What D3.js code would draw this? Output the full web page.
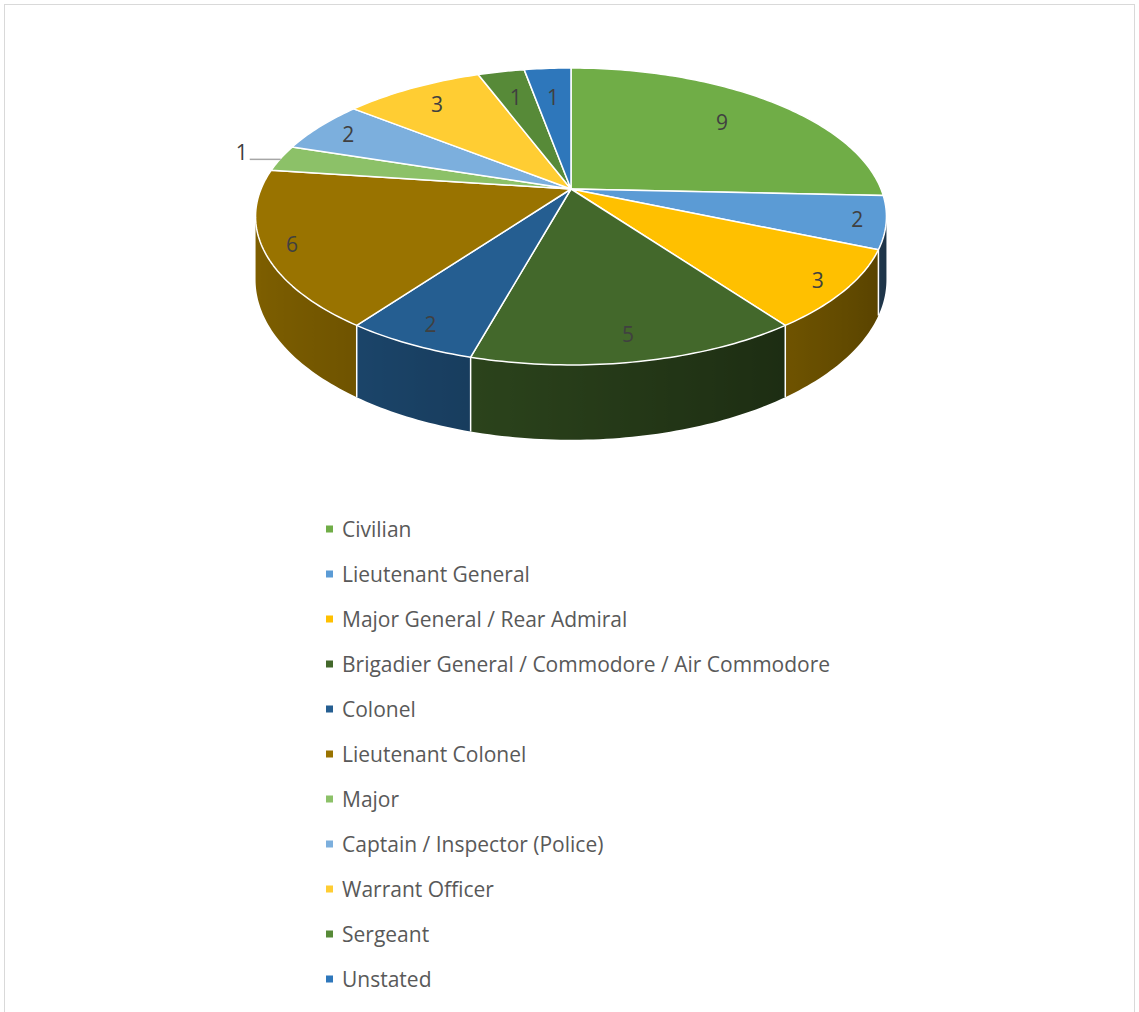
<!DOCTYPE html>
<html>
<head>
<meta charset="utf-8">
<script src="https://cdn.jsdelivr.net/npm/d3@7"></script>
<style>
  body { margin: 0; background: #fff; }
  svg { display: block; }
  text { font-family: "Open Sans", "Noto Sans", sans-serif; }
</style>
</head>
<body>
<svg id="chart" width="1139" height="1012"></svg>
<script>
const categories = [
  'Civilian',
  'Lieutenant General',
  'Major General / Rear Admiral',
  'Brigadier General / Commodore / Air Commodore',
  'Colonel',
  'Lieutenant Colonel',
  'Major',
  'Captain / Inspector (Police)',
  'Warrant Officer',
  'Sergeant',
  'Unstated'
];
const counts = [9, 2, 3, 5, 2, 6, 1, 2, 3, 1, 1];
const palette = ['#70AD47', '#5B9BD5', '#FFC000', '#43682B', '#255E91', '#997300',
  '#8CC168', '#7CAFDD', '#FFCD33', '#578A38', '#2E77BB'];

const svg = d3.select('#chart');
const W = 1139, H = 1012;
const defs = svg.append('defs');

// chart frame
svg.append('rect')
  .attr('x', 4.5).attr('y', 4.5)
  .attr('width', W - 9).attr('height', H + 20)
  .attr('fill', '#fff').attr('stroke', '#d9d9d9');

const color = d3.scaleOrdinal().domain(categories).range(palette);

// 3d pie projection (perspective tilt)
const cx = 571, cy = 189, R = 310, A = 143.4, U = 0.185, DEPTH = 61;
function proj(t, r = 1, depth = 0) {
  const c = Math.cos(t), s = Math.sin(t);
  const k = 1 / (1 + U * c * r);
  return [cx + R * r * s * k, cy - A * r * c * k + depth * k];
}

const arcs = d3.pie().value(d => d).sort(null)(counts)
  .map((a, i) => ({ ...a, name: categories[i], i }));

const line = d3.line();
const deg = Math.PI / 180;

function shade(base, t) {
  const b = 0.58 - 0.25 * Math.sin(t);
  const c = d3.rgb(base);
  return d3.rgb(c.r * b, c.g * b, c.b * b).formatHex();
}

// visible part of the side wall
const tMin = Math.acos(-U), tMax = 2 * Math.PI - Math.acos(-U);
const walls = arcs.map((a) => {
  const lo = Math.max(a.startAngle, tMin);
  const hi = Math.min(a.endAngle, tMax);
  return { ...a, lo, hi };
}).filter(w => w.hi > w.lo);

walls.forEach((w) => {
  const n = Math.max(2, Math.ceil((w.hi - w.lo) / deg));
  const ts = d3.range(n + 1).map(j => w.lo + (w.hi - w.lo) * j / n);
  w.top = ts.map(t => proj(t));
  w.bot = ts.map(t => proj(t, 1, DEPTH));
  const xs = w.top.map(p => p[0]);
  const x0 = d3.min(xs), x1 = d3.max(xs);
  const grad = defs.append('linearGradient')
    .attr('id', 'side' + w.i)
    .attr('gradientUnits', 'userSpaceOnUse')
    .attr('x1', x0).attr('x2', x1).attr('y1', 0).attr('y2', 0);
  const stops = ts.map((t, j) => ({ o: x1 > x0 ? (xs[j] - x0) / (x1 - x0) : 0, c: shade(color(w.name), t) }))
    .sort((p, q) => p.o - q.o);
  grad.selectAll('stop')
    .data(stops)
    .join('stop')
      .attr('offset', d => d.o)
      .attr('stop-color', d => d.c);
});

const side = svg.append('g');
side.selectAll('path')
  .data(walls)
  .join('path')
    .attr('d', w => line(w.top.concat(w.bot.slice().reverse())) + 'Z')
    .attr('fill', w => `url(#side${w.i})`);

// white seams on the side between slices
const seams = arcs.map(a => a.startAngle)
  .filter(t => t > tMin && t < tMax);
side.selectAll('line')
  .data(seams)
  .join('line')
    .attr('x1', t => proj(t)[0]).attr('y1', t => proj(t)[1])
    .attr('x2', t => proj(t, 1, DEPTH)[0]).attr('y2', t => proj(t, 1, DEPTH)[1])
    .attr('stroke', '#fff').attr('stroke-width', 1.5);

// top face
function topPath(a) {
  const pts = [[cx, cy]];
  const n = Math.max(2, Math.ceil((a.endAngle - a.startAngle) / deg));
  for (let j = 0; j <= n; j++) {
    pts.push(proj(a.startAngle + (a.endAngle - a.startAngle) * j / n));
  }
  return line(pts) + 'Z';
}

svg.append('g')
  .selectAll('path')
  .data(arcs)
  .join('path')
    .attr('d', topPath)
    .attr('fill', d => color(d.name))
    .attr('stroke', '#fff')
    .attr('stroke-width', 1.5)
    .attr('stroke-linejoin', 'round');

// data labels
const total = d3.sum(counts);
const labels = svg.append('g')
  .attr('font-size', 21)
  .attr('fill', '#404040');

arcs.forEach((a) => {
  const mid = (a.startAngle + a.endAngle) / 2;
  const e = proj(mid);
  const outside = a.value / total < 0.04 && Math.abs(Math.sin(mid)) > 0.9;
  if (outside) {
    labels.append('line')
      .attr('x1', e[0]).attr('y1', e[1] + 1)
      .attr('x2', e[0] - 31).attr('y2', e[1] + 1)
      .attr('stroke', '#a6a6a6').attr('stroke-width', 1.5);
    labels.append('text')
      .attr('x', e[0] - 33).attr('y', e[1] - 6)
      .attr('text-anchor', 'end')
      .attr('dominant-baseline', 'central')
      .text(a.value);
  } else {
    const dx = cx - e[0], dy = cy - e[1];
    const len = Math.hypot(dx, dy);
    const off = a.value / total > 0.2 ? 52 : 29;
    labels.append('text')
      .attr('x', e[0] + dx / len * off)
      .attr('y', e[1] + dy / len * off)
      .attr('text-anchor', 'middle')
      .attr('dominant-baseline', 'central')
      .text(a.value);
  }
});

// legend
const ly = d3.scalePoint().domain(categories).range([529, 979]);
const legend = svg.append('g')
  .selectAll('g')
  .data(categories)
  .join('g')
    .attr('transform', d => `translate(0,${ly(d)})`);

legend.append('rect')
  .attr('x', 326).attr('y', -3.5)
  .attr('width', 7).attr('height', 7)
  .attr('fill', d => color(d));

legend.append('text')
  .attr('x', 342).attr('y', 0)
  .attr('dominant-baseline', 'central')
  .attr('font-size', 21)
  .attr('fill', '#595959')
  .text(d => d);
</script>
</body>
</html>
